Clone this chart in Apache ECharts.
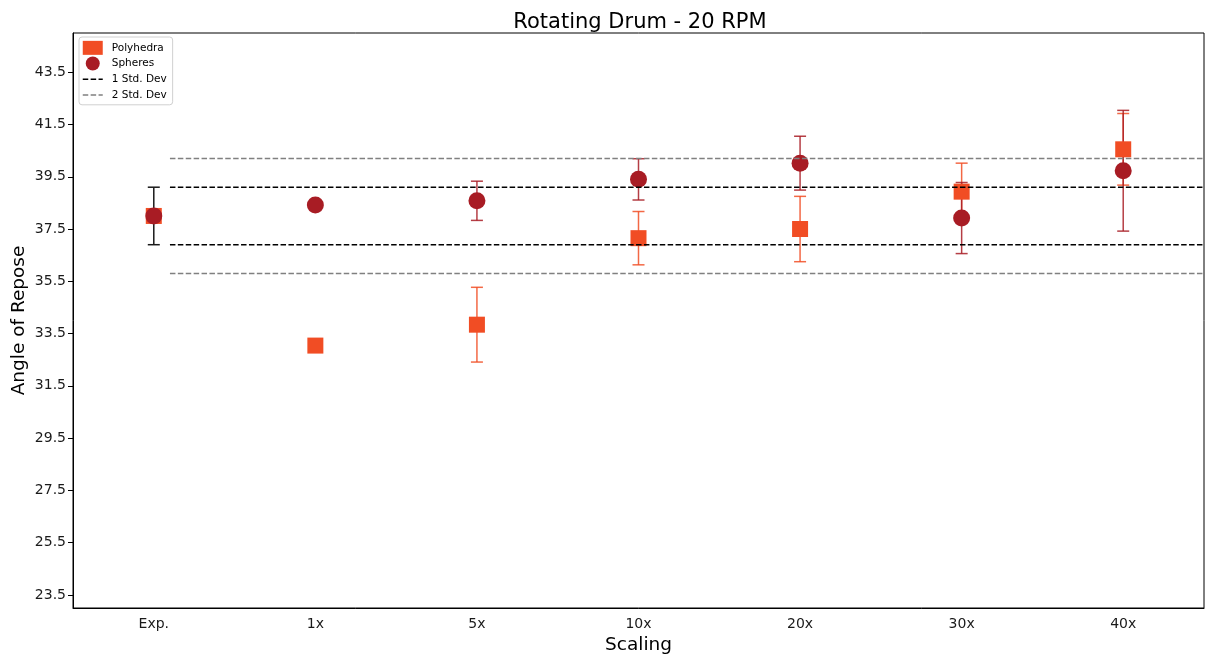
<!DOCTYPE html>
<html>
<head>
<meta charset="utf-8">
<title>Rotating Drum - 20 RPM</title>
<script src="https://cdn.jsdelivr.net/npm/echarts@6/dist/echarts.min.js"></script>
<style>
  html, body { margin: 0; padding: 0; background: #fff; }
  #chart { width: 1205px; height: 654px; }
</style>
</head>
<body>
<div id="chart"></div>
<script>
// Scaling levels along the x axis
const categories = ['Exp.', '1x', '5x', '10x', '20x', '30x', '40x'];

// Mean angle of repose per scaling level
const polyhedra = [38.0, 33.04, 33.84, 37.15, 37.5, 38.93, 40.55];
const spheres   = [38.0, 38.42, 38.58, 39.4, 40.02, 37.92, 39.73];

// Half-widths of the error bars (null = no bar)
const polyhedraErr = [null, null, 1.43, 1.02, 1.25, 1.09, 1.37];
const spheresErr   = [null, null, 0.75, 0.79, 1.03, 1.36, 2.31];

// Experimental reference value and its spread
const expValue = 38.0;
const expErr = 1.1;

// Horizontal reference bands (lower, upper)
const stdDev1 = [36.9, 39.1];
const stdDev2 = [35.8, 40.2];
const bandStart = 0.1;
const bandEnd = 6.5;

// Y tick labels
const yTicks = [23.5, 25.5, 27.5, 29.5, 31.5, 33.5, 35.5, 37.5, 39.5, 41.5, 43.5];

const POLY_COLOR = '#F14D24';
const SPH_COLOR = '#A81C24';
const FONT = 'DejaVu Sans';
const DASH = [5.5, 2.4];

function errData(values, errs) {
  const out = [];
  values.forEach((v, i) => {
    if (errs[i] != null) out.push([i, v - errs[i], v + errs[i]]);
  });
  return out;
}

function makeErrRender(color) {
  return function (params, api) {
    const x = api.value(0);
    const top = api.coord([x, api.value(2)]);
    const bot = api.coord([x, api.value(1)]);
    const cap = 6;
    const style = { stroke: color, lineWidth: 1.5, fill: null };
    return {
      type: 'group',
      children: [
        { type: 'line', shape: { x1: top[0], y1: top[1], x2: bot[0], y2: bot[1] }, style },
        { type: 'line', shape: { x1: top[0] - cap, y1: top[1], x2: top[0] + cap, y2: top[1] }, style },
        { type: 'line', shape: { x1: bot[0] - cap, y1: bot[1], x2: bot[0] + cap, y2: bot[1] }, style }
      ]
    };
  };
}

function bandSeries(name, value, color) {
  return {
    name: name,
    type: 'line',
    xAxisIndex: 1,
    data: [[bandStart, value], [bandEnd, value]],
    symbol: 'none',
    showSymbol: false,
    silent: true,
    z: 5,
    lineStyle: { color: color, width: 1.5, type: DASH },
    itemStyle: { color: color }
  };
}

const chart = echarts.init(document.getElementById('chart'), null, { renderer: 'canvas' });

chart.setOption({
  animation: false,
  backgroundColor: '#fff',
  textStyle: { fontFamily: FONT },
  title: {
    text: 'Rotating Drum - 20 RPM',
    left: 635,
    textAlign: 'center',
    top: 7,
    textStyle: { fontFamily: FONT, fontSize: 21, fontWeight: 'normal', color: '#000' }
  },
  legend: {
    orient: 'vertical',
    left: 79,
    top: 37,
    padding: [3, 6, 2, 3],
    itemGap: 0,
    itemWidth: 20,
    itemHeight: 14,
    borderColor: '#d0d0d0',
    borderWidth: 1,
    borderRadius: 3,
    backgroundColor: 'rgba(255,255,255,0.8)',
    textStyle: { fontFamily: FONT, fontSize: 10.5, color: '#000', padding: [0, 0, 0, 4], lineHeight: 15.7 },
    data: [
      { name: 'Polyhedra', icon: 'rect' },
      { name: 'Spheres', icon: 'circle' },
      { name: '1 Std. Dev', itemStyle: { opacity: 0 }, lineStyle: { color: '#000', width: 1.5, type: DASH } },
      { name: '2 Std. Dev', itemStyle: { opacity: 0 }, lineStyle: { color: '#808080', width: 1.5, type: DASH } }
    ]
  },
  grid: {
    left: 73, right: 1, top: 33, bottom: 46,
    outerBoundsMode: 'none',
    containLabel: false,
    show: true, borderColor: '#000', borderWidth: 1
  },
  xAxis: [
    {
      type: 'category',
      data: categories,
      boundaryGap: true,
      name: 'Scaling',
      nameLocation: 'middle',
      nameGap: 28,
      nameMoveOverlap: false,
      nameTextStyle: { fontFamily: FONT, fontSize: 18.5, color: '#000', verticalAlign: 'top' },
      axisLine: { onZero: false, lineStyle: { color: '#000', width: 1 } },
      axisTick: { alignWithLabel: true, length: 5, lineStyle: { color: '#000' } },
      axisLabel: { fontFamily: FONT, fontSize: 14, color: '#1a1a1a', margin: 9 },
      splitLine: { show: false }
    },
    {
      type: 'value',
      min: -0.5,
      max: 6.5,
      show: false,
      axisLine: { onZero: false }
    }
  ],
  yAxis: {
    type: 'value',
    min: 23,
    max: 45,
    name: 'Angle of Repose',
    nameLocation: 'middle',
    nameGap: 44,
    nameMoveOverlap: false,
    nameTextStyle: { fontFamily: FONT, fontSize: 18.5, color: '#000' },
    axisLine: { show: true, onZero: false, lineStyle: { color: '#000', width: 1 } },
    axisTick: { show: true, length: 5, customValues: yTicks, lineStyle: { color: '#000' } },
    axisLabel: {
      fontFamily: FONT, fontSize: 14, color: '#1a1a1a', margin: 7,
      customValues: yTicks,
      formatter: v => v.toFixed(1)
    },
    splitLine: { show: false }
  },
  series: [
    {
      name: 'expErr',
      type: 'custom',
      z: 1,
      silent: true,
      renderItem: makeErrRender('#1a1a1a'),
      encode: { x: 0, y: [1, 2] },
      data: [[0, expValue - expErr, expValue + expErr]]
    },
    {
      name: 'polyErr',
      type: 'custom',
      z: 1,
      silent: true,
      renderItem: makeErrRender('rgba(241,77,36,0.85)'),
      encode: { x: 0, y: [1, 2] },
      data: errData(polyhedra, polyhedraErr)
    },
    {
      name: 'sphErr',
      type: 'custom',
      z: 1,
      silent: true,
      renderItem: makeErrRender('rgba(168,28,36,0.85)'),
      encode: { x: 0, y: [1, 2] },
      data: errData(spheres, spheresErr)
    },
    {
      name: 'Polyhedra',
      type: 'scatter',
      z: 2,
      symbol: 'rect',
      symbolSize: 16,
      itemStyle: { color: POLY_COLOR, opacity: 1 },
      data: polyhedra
    },
    {
      name: 'Spheres',
      type: 'scatter',
      z: 3,
      symbol: 'circle',
      symbolSize: 17,
      itemStyle: { color: SPH_COLOR, opacity: 1 },
      data: spheres
    },
    bandSeries('1 Std. Dev', stdDev1[0], '#000'),
    bandSeries('1 Std. Dev', stdDev1[1], '#000'),
    bandSeries('2 Std. Dev', stdDev2[0], '#808080'),
    bandSeries('2 Std. Dev', stdDev2[1], '#808080')
  ]
});
</script>
</body>
</html>
